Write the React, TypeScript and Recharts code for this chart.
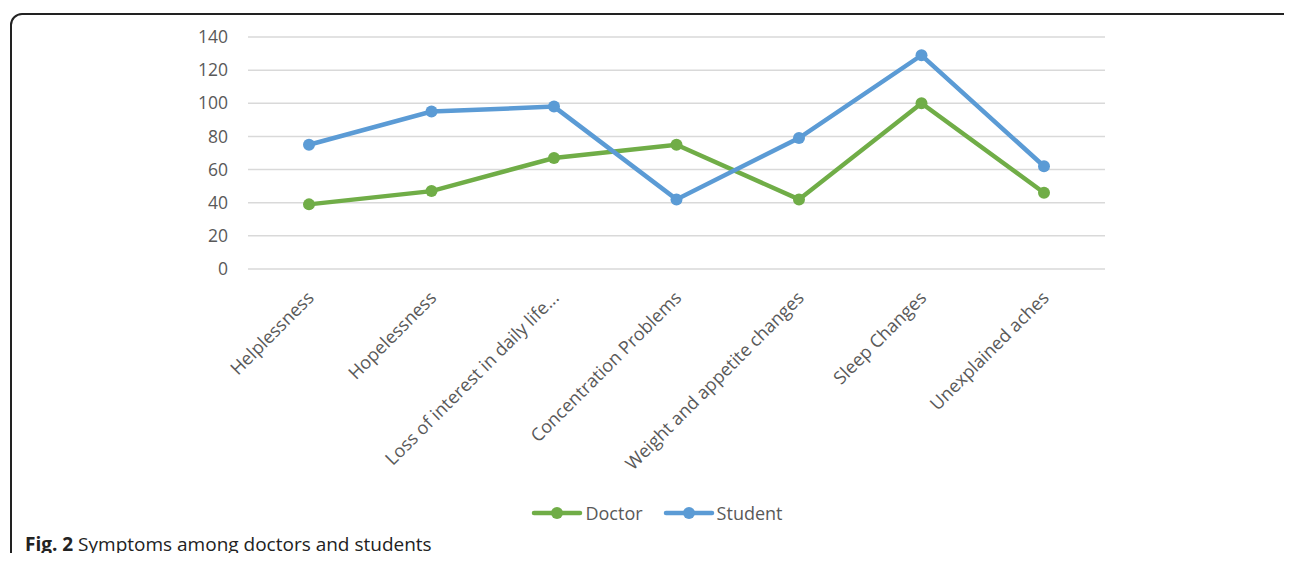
import React from "react";
import { LineChart, Line, XAxis, YAxis, CartesianGrid } from "recharts";

const categories = [
  "Helplessness",
  "Hopelessness",
  "Loss of interest in daily life...",
  "Concentration Problems",
  "Weight and appetite changes",
  "Sleep Changes",
  "Unexplained aches",
];
const doctorValues = [39, 47, 67, 75, 42, 100, 46];
const studentValues = [75, 95, 98, 42, 79, 129, 62];
const yTicks = [0, 20, 40, 60, 80, 100, 120, 140];
const seriesNames = ["Doctor", "Student"];

const data = categories.map((name, i) => ({
  name,
  Doctor: doctorValues[i],
  Student: studentValues[i],
}));

const FONT = "'Open Sans', 'Noto Sans', sans-serif";
const TEXT = "#595959";
const GREEN = "#70ad47";
const BLUE = "#5b9bd5";
const seriesColors = [GREEN, BLUE];

const XTick = (props: any) => {
  const { x, y, payload } = props;
  return (
    <g transform={`translate(${x + 6},${y + 22})`}>
      <text
        x={0}
        y={0}
        textAnchor="end"
        transform="rotate(-45)"
        fill={TEXT}
        fontSize={18}
        fontFamily={FONT}
      >
        {payload.value}
      </text>
    </g>
  );
};

export default function App() {
  return (
    <div
      style={{
        position: "relative",
        width: 1292,
        height: 561,
        margin: -8,
        overflow: "hidden",
        background: "#fff",
        fontFamily: FONT,
      }}
    >
      <div
        style={{
          position: "absolute",
          left: 10,
          top: 13,
          width: 1290,
          height: 600,
          border: "2px solid #222",
          borderRadius: 12,
          boxSizing: "border-box",
        }}
      />
      <div style={{ position: "absolute", left: 0, top: 0 }}>
        <LineChart
          width={1292}
          height={561}
          data={data}
          margin={{ top: 37, right: 187, left: 188, bottom: 105 }}
        >
          <CartesianGrid vertical={false} stroke="#d9d9d9" strokeWidth={1.5} />
          <XAxis
            dataKey="name"
            axisLine={false}
            tickLine={false}
            interval={0}
            padding={{ left: 61, right: 61 }}
            height={187}
            tick={<XTick />}
          />
          <YAxis
            width={60}
            domain={[0, 140]}
            ticks={yTicks}
            axisLine={false}
            tickLine={false}
            tickMargin={14}
            tick={{ fill: TEXT, fontSize: 17.5, fontFamily: FONT }}
          />
          <Line
            type="linear"
            dataKey="Doctor"
            stroke={GREEN}
            strokeWidth={4.5}
            dot={{ r: 6, fill: GREEN, stroke: GREEN, strokeWidth: 0 }}
            activeDot={false}
            isAnimationActive={false}
          />
          <Line
            type="linear"
            dataKey="Student"
            stroke={BLUE}
            strokeWidth={4.5}
            dot={{ r: 6, fill: BLUE, stroke: BLUE, strokeWidth: 0 }}
            activeDot={false}
            isAnimationActive={false}
          />
        </LineChart>
      </div>
      <div
        style={{
          position: "absolute",
          left: 0,
          top: 501,
          width: 1292,
          display: "flex",
          justifyContent: "center",
          alignItems: "center",
          paddingLeft: 22,
          boxSizing: "border-box",
        }}
      >
        {seriesNames.map((n, i) => (
          <div key={n} style={{ display: "flex", alignItems: "center", marginRight: i === 0 ? 20 : 0 }}>
            <svg width={52} height={16} style={{ marginRight: 2 }}>
              <line x1={3} y1={8} x2={49} y2={8} stroke={seriesColors[i]} strokeWidth={4.5} strokeLinecap="round" />
              <circle cx={26} cy={8} r={6} fill={seriesColors[i]} />
            </svg>
            <span style={{ fontFamily: FONT, fontSize: 18, color: TEXT, lineHeight: "24px" }}>{n}</span>
          </div>
        ))}
      </div>
      <div
        style={{
          position: "absolute",
          left: 25,
          top: 531,
          fontSize: 19,
          color: "#222",
          fontFamily: FONT,
          whiteSpace: "nowrap",
          lineHeight: "26px",
        }}
      >
        <b>Fig. 2</b> Symptoms among doctors and students
      </div>
    </div>
  );
}
